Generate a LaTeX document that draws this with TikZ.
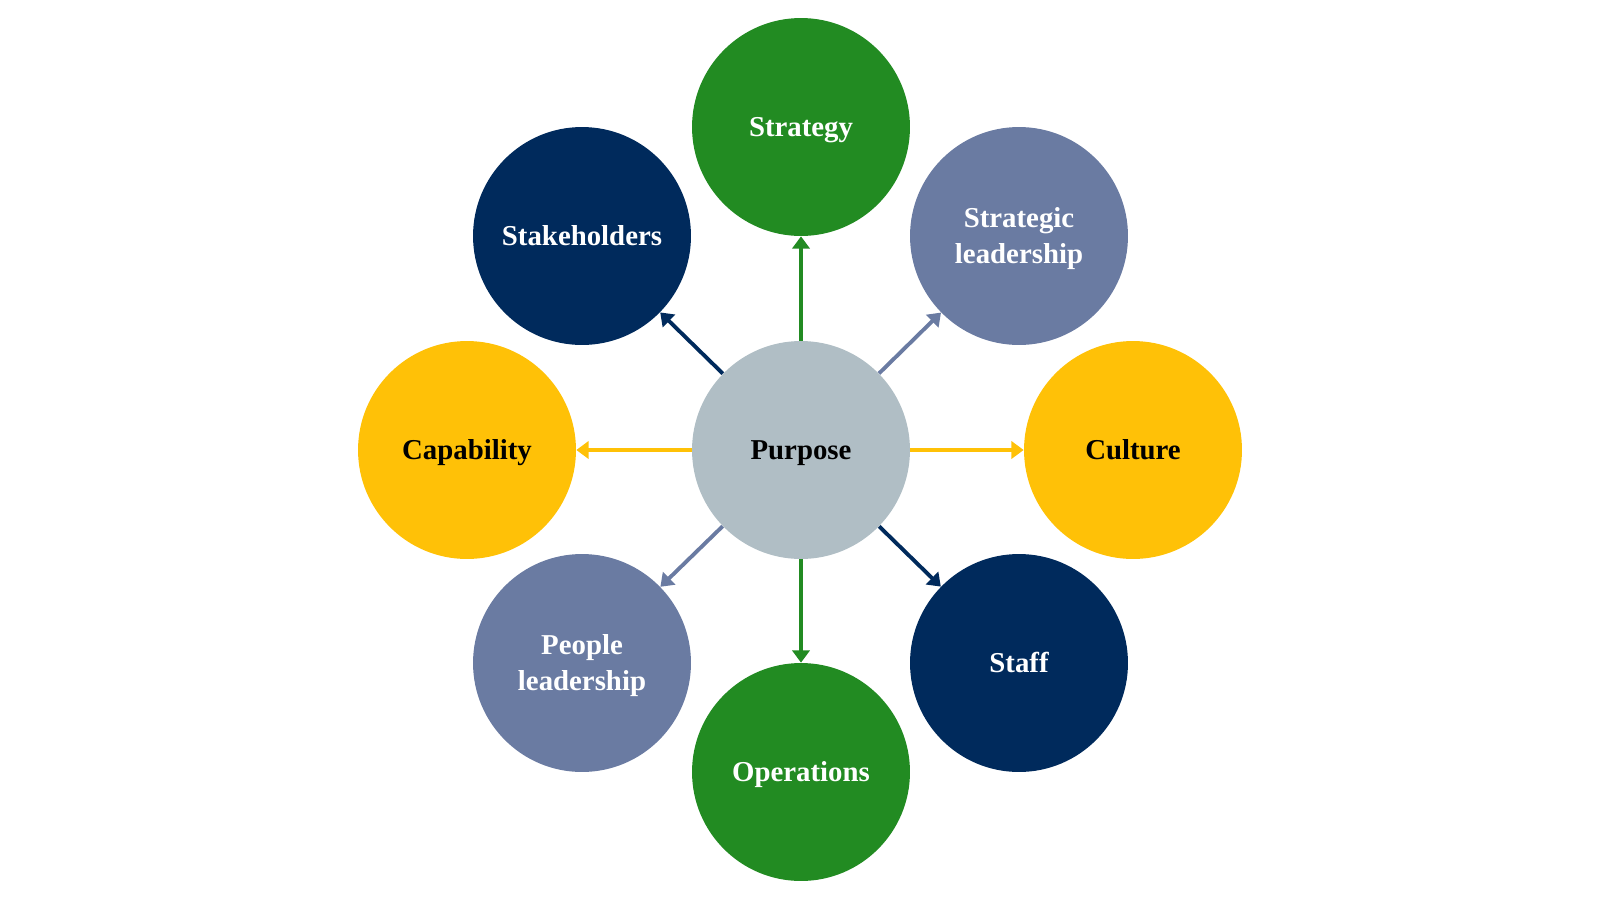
\documentclass[tikz,border=0pt]{standalone}
\usepackage{fontspec}
\setmainfont{Liberation Serif}
\usetikzlibrary{arrows.meta}
\definecolor{cgreen}{HTML}{228B22}
\definecolor{cnavy}{HTML}{002A5C}
\definecolor{cslate}{HTML}{6A7BA2}
\definecolor{cyellow}{HTML}{FFC107}
\definecolor{cgray}{HTML}{B0BEC5}
\newcommand\lblone[1]{\makebox[0pt]{\raisebox{-5.43pt}[0pt][0pt]{#1}}}
\newcommand\lbltwo[2]{\makebox[0pt]{\raisebox{4.6pt}[0pt][0pt]{#1}}\makebox[0pt]{\raisebox{-15.4pt}[0pt][0pt]{#2}}}
\begin{document}
\begin{tikzpicture}[x=0.02cm,y=-0.02cm,
  bub/.style={circle,inner sep=0pt,minimum size=4.36cm,
    font=\fontsize{16.4}{20}\selectfont\bfseries},
  conn/.style={line width=2.2pt,-{Triangle[length=7pt,width=9.8pt]}}]
\useasboundingbox (0,0) rectangle (1605,903);
\node[bub,fill=cgray,text=black] (pur) at (801,450) {\lblone{Purpose}};
\node[bub,fill=cgreen,text=white] (str) at (801,127) {\lblone{Strategy}};
\node[bub,fill=cgreen,text=white] (ops) at (801,772) {\lblone{Operations}};
\node[bub,fill=cyellow,text=black] (cap) at (467,450) {\lblone{Capability}};
\node[bub,fill=cyellow,text=black] (cul) at (1133,450) {\lblone{Culture}};
\node[bub,fill=cnavy,text=white] (stk) at (582,236) {\lblone{Stakeholders}};
\node[bub,fill=cslate,text=white] (sl) at (1019,236) {\lbltwo{Strategic}{leadership}};
\node[bub,fill=cslate,text=white] (pl) at (582,663) {\lbltwo{People}{leadership}};
\node[bub,fill=cnavy,text=white] (stf) at (1019,663) {\lblone{Staff}};
\draw[conn,cgreen] (pur) -- (str);
\draw[conn,cgreen] (pur) -- (ops);
\draw[conn,cyellow] (pur) -- (cap);
\draw[conn,cyellow] (pur) -- (cul);
\draw[conn,cnavy] (pur) -- (stk);
\draw[conn,cnavy] (pur) -- (stf);
\draw[conn,cslate] (pur) -- (sl);
\draw[conn,cslate] (pur) -- (pl);
\end{tikzpicture}
\end{document}
